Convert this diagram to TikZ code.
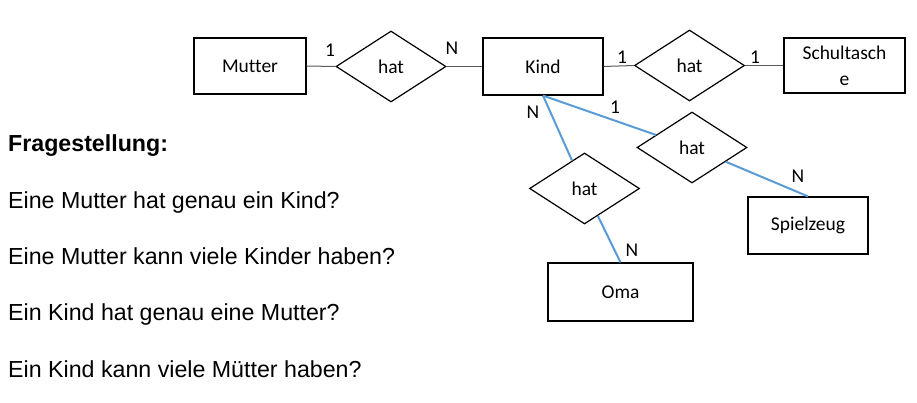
\documentclass[tikz,border=0pt]{standalone}
\usepackage{fontspec}
\setmainfont[Ligatures=CommonOff]{Carlito}
\newfontfamily\arialf{Liberation Sans}
\usetikzlibrary{shapes.geometric}
\definecolor{erblue}{RGB}{91,155,213}
\begin{document}
\begin{tikzpicture}[x=1pt,y=-1pt,
  entity/.style={draw=black,line width=1.2pt,rectangle,inner sep=0pt,font=\fontsize{19.5}{26}\selectfont,align=center},
  rel/.style={draw=black,line width=1.2pt,diamond,inner sep=0pt,minimum width=110pt,minimum height=71pt,font=\fontsize{19.5}{23}\selectfont},
  card/.style={inner sep=0pt,font=\fontsize{19.5}{23}\selectfont},
  conn/.style={draw=black!65,line width=1pt},
  blueconn/.style={draw=erblue,line width=2pt},
  question/.style={anchor=base west,inner sep=0pt,font=\arialf\fontsize{23.2}{27}\selectfont}]
\useasboundingbox (0,0) rectangle (917,403);
% entities
\node[entity,minimum width=112pt,minimum height=56pt] (mutter) at (250,66) {Mutter};
\node[entity,minimum width=120pt,minimum height=57pt] (kind) at (543,66.5) {Kind};
\node[entity,minimum width=121pt,minimum height=55pt] (schul) at (844.5,65.5) {Schultasch\\e};
\node[entity,minimum width=120pt,minimum height=57pt] (spiel) at (808,225.5) {Spielzeug};
\node[entity,minimum width=145pt,minimum height=58pt] (oma) at (620.5,292) {Oma};
% relationships
\node[rel] (hat1) at (391,66.5) {hat};
\node[rel] (hat2) at (689.5,65.5) {hat};
\node[rel] (hat3) at (692,147.5) {hat};
\node[rel] (hat4) at (584.5,188.5) {hat};
% connectors
\draw[conn] (mutter.east) -- (hat1.west);
\draw[conn] (hat1.east) -- (kind.west);
\draw[conn] (kind.east) -- (hat2.west);
\draw[conn] (hat2.east) -- (schul.west);
\draw[blueconn] (kind.south) -- (hat3);
\draw[blueconn] (hat3) -- (spiel.north);
\draw[blueconn] (kind.south) -- (hat4);
\draw[blueconn] (hat4) -- (oma.north);
% cardinalities
\node[card] (c1) at (330,50) {1};
\node[card] (c2) at (452,48) {N};
\node[card] (c3) at (622,57) {1};
\node[card] (c4) at (755,57) {1};
\node[card] (c5) at (533,112) {N};
\node[card] (c6) at (615,107) {1};
\node[card] (c7) at (798,176) {N};
\node[card] (c8) at (632,250) {N};
% questions
\node[question,font=\arialf\bfseries\fontsize{23.2}{27}\selectfont] (q0) at (8,152) {Fragestellung:};
\node[question] (q1) at (8,208) {Eine Mutter hat genau ein Kind?};
\node[question] (q2) at (8,264.5) {Eine Mutter kann viele Kinder haben?};
\node[question] (q3) at (8,320.5) {Ein Kind hat genau eine Mutter?};
\node[question] (q4) at (8,377) {Ein Kind kann viele Mütter haben?};
\end{tikzpicture}
\end{document}
